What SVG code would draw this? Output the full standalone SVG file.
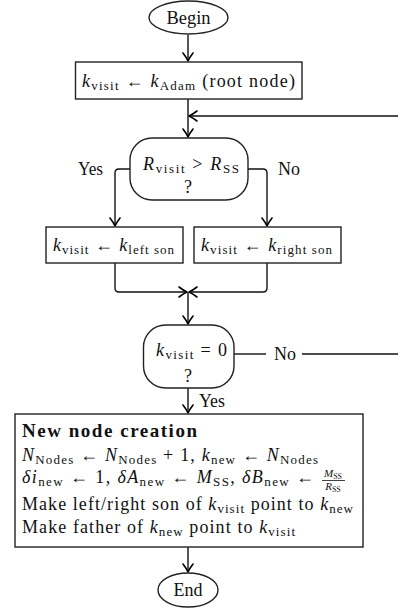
<svg xmlns="http://www.w3.org/2000/svg" width="398" height="610" viewBox="0 0 398 610" font-family="'Liberation Serif', 'Times New Roman', 'DejaVu Serif', serif">
<defs>
<marker id="ah" viewBox="-10 -7 12 14" markerWidth="12" markerHeight="14" refX="0" refY="0" orient="auto" markerUnits="userSpaceOnUse">
<path d="M-8,-5 Q-3,-1.2 0,0 Q-3,1.2 -8,5" fill="none" stroke="#000" stroke-width="1.6" stroke-linecap="round" stroke-linejoin="round"/>
</marker>
<style>
text{font-family:'Liberation Serif','Times New Roman','DejaVu Serif',serif;font-size:18px;fill:#111}
.i{font-style:italic}
.s{font-size:13px}
.b{font-weight:bold;font-size:19px}
.shape{fill:#fff;stroke:#222;stroke-width:1.4}
.c{fill:none;stroke:#111;stroke-width:1.4}
.a{marker-end:url(#ah)}
</style>
</defs>
<rect width="398" height="610" fill="#fff"/>
<g id="connectors">
<path class="c a" d="M188,35 V61"/>
<path class="c a" d="M188,99 V137"/>
<path class="c a" d="M398,116 H189"/>
<path class="c a" d="M130,169 H119 Q115,169 115,173 V226"/>
<path class="c a" d="M248,169 H263 Q267,169 267,173 V226"/>
<path class="c a" d="M115,263 V288 Q115,292 119,292 H187"/>
<path class="c a" d="M267,263 V288 Q267,292 263,292 H189"/>
<path class="c a" d="M188,292 V324"/>
<path class="c" d="M234,354 H266"/>
<path class="c" d="M302,354 H398"/>
<path class="c a" d="M188,388 V413"/>
<path class="c a" d="M188,547 V572"/>
<text x="78" y="175" textLength="25" lengthAdjust="spacingAndGlyphs">Yes</text>
<text x="278" y="175" textLength="22" lengthAdjust="spacingAndGlyphs">No</text>
<text x="274" y="360" textLength="22" lengthAdjust="spacingAndGlyphs">No</text>
<text x="199" y="407" textLength="26" lengthAdjust="spacingAndGlyphs">Yes</text>
</g>
<g id="begin">
<ellipse class="shape" cx="188.5" cy="17.5" rx="39.5" ry="16.5"/>
<text x="188.5" y="23.5" text-anchor="middle" textLength="44" lengthAdjust="spacingAndGlyphs">Begin</text>
</g>
<g id="init">
<rect class="shape" x="75.5" y="62" width="226.5" height="37"/>
<text x="82" y="87" textLength="213" lengthAdjust="spacing"><tspan class="i">k</tspan><tspan class="s" dy="3">visit</tspan><tspan dy="-3"> ← </tspan><tspan class="i">k</tspan><tspan class="s" dy="3">Adam</tspan><tspan dy="-3"> (root node)</tspan></text>
</g>
<g id="decision1">
<rect class="shape" x="130" y="138" width="118" height="62" rx="22" ry="22"/>
<text x="143" y="170" textLength="96" lengthAdjust="spacing"><tspan class="i">R</tspan><tspan class="s" dy="3">visit</tspan><tspan dy="-3"> &gt; </tspan><tspan class="i">R</tspan><tspan class="s" dy="3">SS</tspan></text>
<text x="188" y="193" text-anchor="middle">?</text>
</g>
<g id="leftson">
<rect class="shape" x="46" y="227" width="137" height="36"/>
<text x="53" y="251" textLength="121" lengthAdjust="spacing"><tspan class="i">k</tspan><tspan class="s" dy="3">visit</tspan><tspan dy="-3"> ← </tspan><tspan class="i">k</tspan><tspan class="s" dy="3">left son</tspan></text>
</g>
<g id="rightson">
<rect class="shape" x="194" y="227" width="147" height="36"/>
<text x="201" y="251" textLength="131" lengthAdjust="spacing"><tspan class="i">k</tspan><tspan class="s" dy="3">visit</tspan><tspan dy="-3"> ← </tspan><tspan class="i">k</tspan><tspan class="s" dy="3">right son</tspan></text>
</g>
<g id="decision2">
<rect class="shape" x="143.5" y="325" width="90.5" height="63" rx="22" ry="22"/>
<text x="156" y="356" textLength="71" lengthAdjust="spacing"><tspan class="i">k</tspan><tspan class="s" dy="3">visit</tspan><tspan dy="-3"> = 0</tspan></text>
<text x="188" y="382" text-anchor="middle">?</text>
</g>
<g id="creation">
<rect class="shape" x="15" y="414" width="348" height="133"/>
<text x="22" y="437" class="b" textLength="175" lengthAdjust="spacing">New node creation</text>
<text x="22" y="461" textLength="296" lengthAdjust="spacing"><tspan class="i">N</tspan><tspan class="s" dy="3">Nodes</tspan><tspan dy="-3"> ← </tspan><tspan class="i">N</tspan><tspan class="s" dy="3">Nodes</tspan><tspan dy="-3"> + 1, </tspan><tspan class="i">k</tspan><tspan class="s" dy="3">new</tspan><tspan dy="-3"> ← </tspan><tspan class="i">N</tspan><tspan class="s" dy="3">Nodes</tspan></text>
<text x="22" y="483" textLength="292" lengthAdjust="spacing"><tspan class="i">δi</tspan><tspan class="s" dy="3">new</tspan><tspan dy="-3"> ← 1, </tspan><tspan class="i">δA</tspan><tspan class="s" dy="3">new</tspan><tspan dy="-3"> ← </tspan><tspan class="i">M</tspan><tspan class="s" dy="3">SS</tspan><tspan dy="-3">, </tspan><tspan class="i">δB</tspan><tspan class="s" dy="3">new</tspan><tspan dy="-3"> ←</tspan></text>
<text x="333" y="477" text-anchor="middle" font-size="11"><tspan class="i" font-size="11">M</tspan><tspan font-size="8" dy="2">SS</tspan></text>
<line x1="322" y1="480.5" x2="345" y2="480.5" stroke="#111" stroke-width="0.8"/>
<text x="333" y="490" text-anchor="middle" font-size="11"><tspan class="i" font-size="11">R</tspan><tspan font-size="8" dy="2">SS</tspan></text>
<text x="22" y="510" textLength="331" lengthAdjust="spacing">Make left/right son of <tspan class="i">k</tspan><tspan class="s" dy="3">visit</tspan><tspan dy="-3"> point to </tspan><tspan class="i">k</tspan><tspan class="s" dy="3">new</tspan></text>
<text x="22" y="533" textLength="273" lengthAdjust="spacing">Make father of <tspan class="i">k</tspan><tspan class="s" dy="3">new</tspan><tspan dy="-3"> point to </tspan><tspan class="i">k</tspan><tspan class="s" dy="3">visit</tspan></text>
</g>
<g id="end">
<ellipse class="shape" cx="188" cy="590" rx="30" ry="17"/>
<text x="188" y="596" text-anchor="middle">End</text>
</g>
</svg>
